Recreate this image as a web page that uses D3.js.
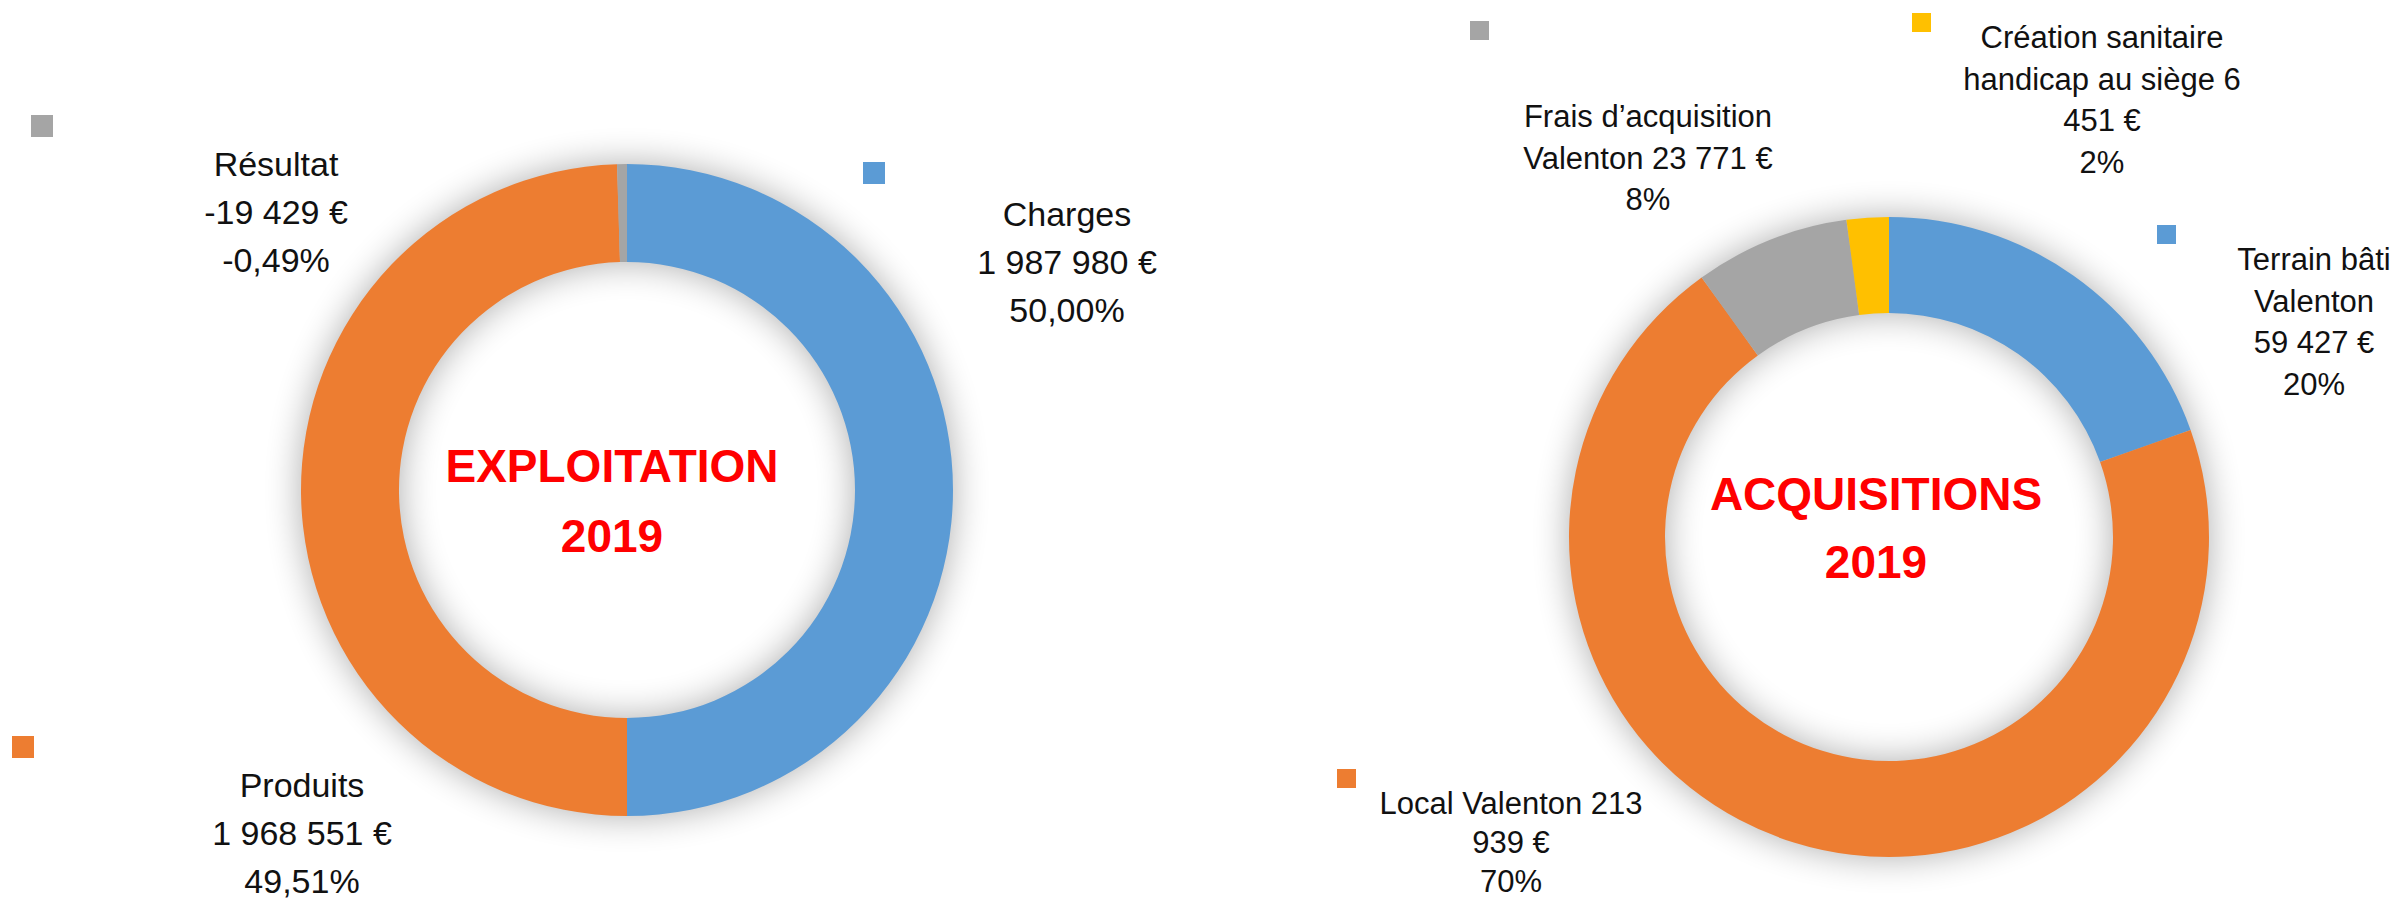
<!DOCTYPE html>
<html lang="fr">
<head>
    <meta charset="UTF-8">
    <title>Exploitation et acquisitions 2019</title>
    <style>
        html,
        body {
            margin: 0;
            height: 100%;
            overflow: hidden;
            background: #fff;
        }
        text {
            font-family: "Liberation Sans", Arial, sans-serif;
        }
    </style>
    <script src="https://d3js.org/d3.v7.min.js"></script>
</head>
<body>
    <svg id="svg"></svg>
    <script>
        // données
        const exploitCategories = ['Charges', 'Produits', 'Résultat'];
        const exploitValues = [1987980, 1968551, -19429];
        const acqCategories = ['Terrain bâti Valenton', 'Local Valenton', 'Frais d’acquisition Valenton', 'Création sanitaire handicap au siège'];
        const acqValues = [59427, 213939, 23771, 6451];
        const exploitTitle = ['EXPLOITATION', '2019'];
        const acqTitle = ['ACQUISITIONS', '2019'];
        const sliceColors = ['#5B9BD5', '#ED7D31', '#A5A5A5', '#FFC000'];

        const width = 2402;
        const height = 904;
        const svg = d3.select('#svg').attr('width', width).attr('height', height);

        const fr = d3.formatLocale({
            decimal: ',', thousands: ' ', grouping: [3],
            currency: ['', ' €'], minus: '-'
        });
        const money = fr.format('$,.0f');

        // mise en page (positions des étiquettes posées à la main comme dans Excel)
        const charts = [
            {
                categories: exploitCategories, values: exploitValues, title: exploitTitle,
                cx: 627, cy: 490, outer: 326, inner: 228,
                pct: fr.format('.2%'), fontSize: 34, lineHeight: 48, keySize: 22,
                titleX: -15, titleY: [-8, 62],
                labels: [
                    { x: 1067, y: 226, kx: 863, ky: 162 },
                    { x: 302, y: 797, kx: 12, ky: 736 },
                    { x: 276, y: 176, kx: 31, ky: 115 }
                ]
            },
            {
                categories: acqCategories, values: acqValues, title: acqTitle,
                cx: 1889, cy: 537, outer: 320, inner: 224,
                pct: fr.format('.0%'), fontSize: 31, lineHeight: 41.5, keySize: 19,
                titleX: -13, titleY: [-27, 41],
                labels: [
                    { x: 2314, y: 270, kx: 2157, ky: 225, wrap: 162 },
                    { x: 1511, y: 814, kx: 1337, ky: 769, wrap: 290, lh: 39 },
                    { x: 1648, y: 127, kx: 1470, ky: 21, wrap: 280 },
                    { x: 2102, y: 48, kx: 1912, ky: 13, wrap: 300 }
                ]
            }
        ];

        const defs = svg.append('defs');
        defs.append('filter').attr('id', 'halo')
            .attr('x', '-30%').attr('y', '-30%').attr('width', '160%').attr('height', '160%')
            .append('feGaussianBlur').attr('stdDeviation', 18);

        // mesure pour le retour à la ligne
        const measure = svg.append('text').attr('visibility', 'hidden');
        function wrapText(str, maxW, size) {
            measure.attr('font-size', size);
            const words = str.split(' ');
            const lines = [];
            let line = words[0];
            for (let i = 1; i < words.length; i++) {
                const test = line + ' ' + words[i];
                measure.text(test);
                if (measure.node().getComputedTextLength() > maxW) {
                    lines.push(line);
                    line = words[i];
                } else {
                    line = test;
                }
            }
            lines.push(line);
            return lines;
        }

        charts.forEach(c => {
            const data = c.categories.map((name, i) => ({ name, value: c.values[i], color: sliceColors[i] }));
            const total = d3.sum(data, d => Math.abs(d.value));

            const pie = d3.pie().sort(null).value(d => Math.abs(d.value));
            const arc = d3.arc().innerRadius(c.inner).outerRadius(c.outer);

            const g = svg.append('g').attr('transform', `translate(${c.cx},${c.cy})`);

            // ombre douce autour de l'anneau
            g.append('path')
                .attr('d', arc({ startAngle: 0, endAngle: 2 * Math.PI }))
                .attr('fill', '#000')
                .attr('opacity', 0.32)
                .attr('filter', 'url(#halo)');

            g.selectAll('.slice').data(pie(data)).join('path').attr('class', 'slice')
                .attr('d', arc)
                .attr('fill', d => d.data.color);

            // titre central
            g.selectAll('.title').data(c.title).join('text').attr('class', 'title')
                .attr('x', c.titleX)
                .attr('y', (d, i) => c.titleY[i])
                .attr('text-anchor', 'middle')
                .attr('font-size', 46)
                .attr('font-weight', 'bold')
                .attr('fill', '#FF0000')
                .text(d => d);

            // étiquettes de données
            data.forEach((d, i) => {
                const pos = c.labels[i];
                const lh = pos.lh || c.lineHeight;
                let lines;
                if (pos.wrap) {
                    lines = wrapText(d.name + ' ' + money(d.value), pos.wrap, c.fontSize);
                } else {
                    lines = [d.name, money(d.value)];
                }
                lines.push(c.pct(d.value / total));

                svg.append('rect')
                    .attr('x', pos.kx).attr('y', pos.ky)
                    .attr('width', c.keySize).attr('height', c.keySize)
                    .attr('fill', d.color);

                svg.append('text')
                    .attr('text-anchor', 'middle')
                    .attr('font-size', c.fontSize)
                    .attr('fill', '#111')
                    .selectAll('tspan').data(lines).join('tspan')
                    .attr('x', pos.x)
                    .attr('y', (l, j) => pos.y + j * lh)
                    .text(l => l);
            });
        });

        measure.remove();
    </script>
</body>
</html>
